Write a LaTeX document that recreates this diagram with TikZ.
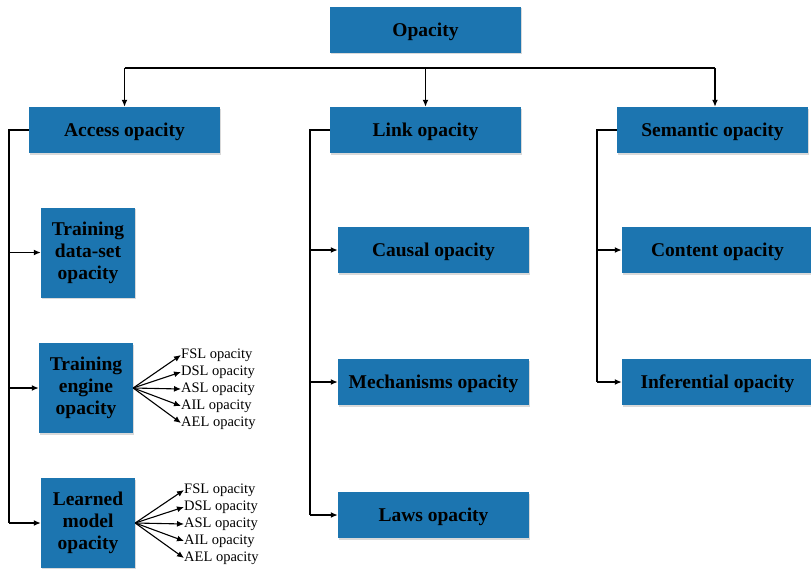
\documentclass[tikz,border=0pt]{standalone}
\usepackage{fontspec}
\setmainfont{Liberation Serif}
\usetikzlibrary{positioning, arrows.meta, shadows}
\definecolor{boxblue}{RGB}{28,117,176}

\begin{document}
\begin{tikzpicture}[
		x=1pt, y=-1pt,
		% 盒子样式
		box/.style={fill=boxblue, draw=none, inner sep=0pt, align=center,
			font=\fontsize{19.5}{22}\selectfont\bfseries,
			drop shadow={shadow xshift=1.2pt, shadow yshift=-1.5pt, opacity=.3, fill=gray}},
		wide/.style={box, minimum width=191pt, minimum height=46pt, text depth=0pt},
		tall/.style={box, minimum width=94pt, minimum height=90pt},
		leaf/.style={anchor=west, inner sep=0pt, font=\fontsize{14.5}{16}\selectfont},
		arr/.style={-{Latex[length=7pt,width=6pt]}, line width=1.4pt},
		line/.style={line width=1.4pt}
		]
		\useasboundingbox (0,0) rectangle (811,568);

		% 顶层
		\node[wide] (op) at (425.5,29.5) {Opacity};
		\node[wide] (acc) at (124.5,130) {Access opacity};
		\node[wide] (lnk) at (425.5,130) {Link opacity};
		\node[wide] (sem) at (712.5,130) {Semantic opacity};

		% 第二层
		\node[tall] (tds) at (88,252.5) {Training\\data-set\\opacity};
		\node[tall] (te) at (86,388) {Training\\engine\\opacity};
		\node[tall] (lm) at (88,523) {Learned\\model\\opacity};
		\node[wide] (cau) at (433.5,250) {Causal opacity};
		\node[wide] (mec) at (433.5,382) {Mechanisms opacity};
		\node[wide] (law) at (433.5,515) {Laws opacity};
		\node[wide] (con) at (717.5,250) {Content opacity};
		\node[wide] (inf) at (717.5,382) {Inferential opacity};

		% 总线
		\coordinate (busL) at (124.5,68);
		\coordinate (busR) at (715,68);
		\draw[line] (busL) -- (busR);
		\draw[arr] (busL) -- (acc.north);
		\draw[arr] (lnk.north |- busL) -- (lnk.north);
		\draw[arr] (busR) -- (busR |- sem.north);

		% 左侧括线
		\coordinate (accT) at (9,130);
		\coordinate (lnkT) at (310,130);
		\coordinate (semT) at (597,130);
		\draw[line] (acc.west) -- (accT) -- (accT |- lm.west);
		\draw[line] (lnk.west) -- (lnkT) -- (lnkT |- law.west);
		\draw[line] (sem.west) -- (semT) -- (semT |- inf.west);
		\foreach \n in {tds, te, lm}
			\draw[arr] (accT |- \n.west) -- (\n.west);
		\foreach \n in {cau, mec, law}
			\draw[arr] (lnkT |- \n.west) -- (\n.west);
		\foreach \n in {con, inf}
			\draw[arr] (semT |- \n.west) -- (\n.west);

		% 扇出标签
		\foreach \t [count=\i] in {FSL, DSL, ASL, AIL, AEL} {
			\node[leaf] (te\i) at (181,338+17*\i) {\t{} opacity};
			\draw[arr, line width=1.1pt] (te.east) -- (te\i.west);
			\node[leaf] (lm\i) at (184,473+17*\i) {\t{} opacity};
			\draw[arr, line width=1.1pt] (lm.east) -- (lm\i.west);
		}
	\end{tikzpicture}
\end{document}
